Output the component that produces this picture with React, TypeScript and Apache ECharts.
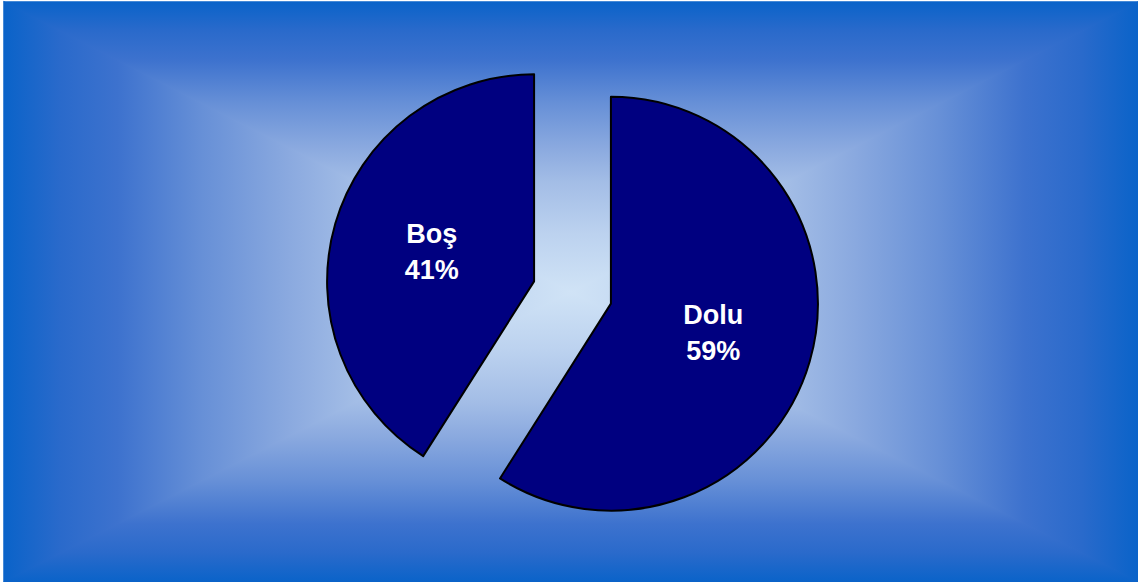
import React, { useEffect, useRef } from "react";
import * as echarts from "echarts";

const categories = ["Dolu", "Boş"];
const values = [59, 41];

const W = 1138;
const H = 582;
const X0 = 4;
const Y0 = 2;
const X1 = 1138;
const Y1 = 582;

const stops = [
  { offset: 0, color: "#0a63c9" },
  { offset: 0.1, color: "#2a6acb" },
  { offset: 0.2, color: "#3d72ce" },
  { offset: 0.35, color: "#6790d7" },
  { offset: 0.5, color: "#8aa9df" },
  { offset: 0.62, color: "#a3bde6" },
  { offset: 0.8, color: "#bcd2ef" },
  { offset: 1, color: "#d0e3f6" },
];

export default function App() {
  const ref = useRef<HTMLDivElement>(null);
  useEffect(() => {
    if (!ref.current) return;
    const chart = echarts.init(ref.current, undefined, { renderer: "svg" });
    const cx = (X0 + X1) / 2;
    const cy = (Y0 + Y1) / 2;
    const grad = (x: number, y: number, x2: number, y2: number) =>
      new echarts.graphic.LinearGradient(x, y, x2, y2, stops);
    const tri = (pts: number[][], g: any, z: number) => ({
      type: "polygon",
      z,
      silent: true,
      shape: { points: pts },
      style: { fill: g, stroke: g, lineWidth: 1.5 },
    });
    chart.setOption({
      animation: false,
      backgroundColor: "#ffffff",
      graphic: [
        tri([[X0, Y0], [X0, Y1], [cx, cy]], grad(0, 0, 1, 0), 0),
        tri([[X1, Y0], [X1, Y1], [cx, cy]], grad(1, 0, 0, 0), 0),
        tri([[X0, Y0], [X1, Y0], [cx, cy]], grad(0, 0, 0, 1), 1),
        tri([[X0, Y1], [X1, Y1], [cx, cy]], grad(0, 1, 0, 0), 1),
      ],
      series: [
        {
          type: "pie",
          z: 5,
          center: [572.5, 292.5],
          radius: 207,
          startAngle: 90,
          clockwise: true,
          selectedMode: "multiple",
          selectedOffset: 40,
          avoidLabelOverlap: false,
          itemStyle: { color: "#000080", borderColor: "#000000", borderWidth: 2 },
          label: {
            show: true,
            position: "inside",
            formatter: "{b}\n{d}%",
            color: "#ffffff",
            fontFamily: "Liberation Sans, Arial, sans-serif",
            fontWeight: "bold",
            fontSize: 27,
            lineHeight: 36,
            textBorderWidth: 0,
          },
          labelLine: { show: false },
          emphasis: { disabled: true },
          select: {
            itemStyle: { color: "#000080", borderColor: "#000000", borderWidth: 2 },
            label: { color: "#ffffff" },
          },
          data: categories.map((name, i) => ({ name, value: values[i], selected: true })),
        },
      ],
    });
    return () => chart.dispose();
  }, []);
  return (
    <div
      ref={ref}
      style={{ position: "fixed", left: 0, top: 0, width: W, height: H }}
    />
  );
}
